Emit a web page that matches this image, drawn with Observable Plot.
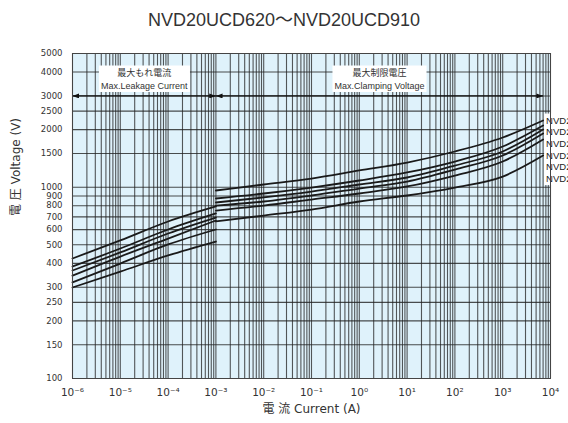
<!DOCTYPE html>
<html><head><meta charset="utf-8">
<script src="https://cdn.jsdelivr.net/npm/d3@7"></script>
<script src="https://cdn.jsdelivr.net/npm/@observablehq/plot@0.6"></script>
<style>
body{margin:0;background:#fff;width:568px;height:423px;overflow:hidden;}
#title{height:40px;line-height:40px;text-align:center;font-size:18px;font-family:"Liberation Sans",Arial,"Noto Sans CJK JP",sans-serif;color:#333;}
#chart svg{display:block;}
</style></head><body>
<div id="title"></div>
<div id="chart"></div>
<script>
// ---- data ----
const models = ["NVD20UCD910","NVD20UCD820","NVD20UCD780","NVD20UCD750","NVD20UCD680","NVD20UCD620"];
const leakCurrent  = [1e-6, 1e-5, 1e-4, 1e-3];
const clampCurrent = [1e-3, 1e-2, 1e-1, 1, 10, 100, 1000, 7000];

const leak910 = [424, 527, 662, 793];
const leak820 = [385, 478, 601, 729];
const leak780 = [367, 456, 573, 694];
const leak750 = [345, 434, 539, 670];
const leak680 = [318, 399, 502, 601];
const leak620 = [299, 362, 440, 520];

const clamp910 = [961, 1033, 1110, 1223, 1346, 1537, 1819, 2232];
const clamp820 = [873,  927,  996, 1084, 1194, 1362, 1632, 2101];
const clamp780 = [832,  884,  949, 1033, 1124, 1298, 1537, 2002];
const clamp750 = [802,  842,  905,  984, 1071, 1237, 1464, 1909];
const clamp680 = [755,  802,  862,  927, 1009, 1151, 1362, 1776];
const clamp620 = [662,  711,  764,  842,  905,  996, 1137, 1464];

const xTicks = [1e-6,1e-5,1e-4,1e-3,1e-2,1e-1,1,10,100,1000,10000];
const xTickLabels = ["10⁻⁶","10⁻⁵","10⁻⁴","10⁻³","10⁻²","10⁻¹","10⁰","10¹","10²","10³","10⁴"];
const yTicks = [100,150,200,250,300,400,500,600,700,800,900,1000,1500,2000,2500,3000,4000,5000];
const yTickLabels = ["100","150","200","250","300","400","500","600","700","800","900","1000","1500","2000","2500","3000","4000","5000"];

const arrowLevel = 3000;
const notes = [
  {text: "最大もれ電流\nMax.Leakage Current", from: 1e-6, to: 1e-3},
  {text: "最大制限電圧\nMax.Clamping Voltage", from: 1e-3, to: 7000}
];
const title = "NVD20UCD620～NVD20UCD910";
const xLabel = "電 流 Current (A)";
const yLabel = "電 圧 Voltage (V)";

// ---- build tables ----
const leakSeries = [leak910, leak820, leak780, leak750, leak680, leak620];
const clampSeries = [clamp910, clamp820, clamp780, clamp750, clamp680, clamp620];
const leakRows = [], clampRows = [];
models.forEach((m, k) => {
  leakCurrent.forEach((c, j) => leakRows.push({model: m, i: c, v: leakSeries[k][j]}));
  clampCurrent.forEach((c, j) => clampRows.push({model: m, i: c, v: clampSeries[k][j]}));
});
// grid positions (1..9 per decade)
const gridX = [];
for (let k = -6; k <= 3; k++) for (let m = 1; m <= 9; m++) gridX.push(m * Math.pow(10, k));
gridX.push(1e4);

const sansJP = "'Liberation Sans', Arial, 'Noto Sans CJK JP', sans-serif";
const wide = "'DejaVu Sans', 'Noto Sans CJK JP', sans-serif";
const endI = clampCurrent[clampCurrent.length - 1];

const chart = Plot.plot({
  width: 568, height: 383,
  marginLeft: 72, marginRight: 18, marginTop: 13, marginBottom: 45,
  style: {fontFamily: wide, fontSize: "10px", color: "#333", background: "transparent"},
  x: {type: "log", domain: [1e-6, 1e4], axis: null},
  y: {type: "log", domain: [100, 5000], axis: null},
  marks: [
    Plot.frame({fill: "#dff2fb"}),
    Plot.ruleX(gridX, {stroke: "#222", strokeOpacity: 0.75, strokeWidth: 1.1}),
    Plot.ruleY(yTicks, {stroke: "#222", strokeOpacity: 0.8, strokeWidth: 1.1}),
    Plot.line(leakRows, {x: "i", y: "v", z: "model", stroke: "#1a1a1a", strokeWidth: 1.8, curve: "monotone-x"}),
    Plot.line(clampRows, {x: "i", y: "v", z: "model", stroke: "#1a1a1a", strokeWidth: 1.8, curve: "monotone-x"}),
    Plot.link(notes, {x1: "from", x2: "to", y1: () => arrowLevel, y2: () => arrowLevel, stroke: "#111", strokeWidth: 1.3, ariaDescription: "span"}),
    Plot.text(notes, {x: d => Math.sqrt(d.from * d.to), y: () => arrowLevel, text: "text", dy: -18, fontSize: 9, lineHeight: 1.5, fill: "#333", fontFamily: sansJP, ariaDescription: "note"}),
    ...models.map((m, i) => Plot.text([m], {x: () => endI, y: () => clamp910[clamp910.length - 1], text: d => d, dx: 3, dy: i * 11.7, textAnchor: "start", fontSize: 9.5, fill: "#222", fontFamily: sansJP, ariaDescription: "curve-label"})),
    Plot.frame({stroke: "#444", strokeWidth: 1}),
    // tick labels
    Plot.text(yTicks, {y: d => d, frameAnchor: "left", dx: -10, textAnchor: "end", text: (d, i) => yTickLabels[i], fontSize: 8.5, fill: "#333"}),
    Plot.text(xTicks, {x: d => d, frameAnchor: "bottom", dy: 17, text: (d, i) => xTickLabels[i], fontSize: 10.5, fill: "#333"}),
    // axis titles
    Plot.text([xLabel], {frameAnchor: "bottom", dy: 34, text: d => d, fontSize: 12, fontFamily: wide, fill: "#333"}),
    Plot.text([yLabel], {frameAnchor: "left", dx: -56, rotate: -90, text: d => d, fontSize: 12, fontFamily: wide, fill: "#333"})
  ]
});
document.getElementById("title").textContent = title;
document.getElementById("chart").append(chart);

// ---- decorations: arrowheads and white label boxes ----
const svg = chart;
const s = d3.select(svg);
const defs = s.insert("defs", ":first-child");
defs.append("marker").attr("id", "ah").attr("viewBox", "0 0 8 6").attr("refX", 8).attr("refY", 3)
  .attr("markerWidth", 7).attr("markerHeight", 5).attr("markerUnits", "userSpaceOnUse")
  .attr("orient", "auto-start-reverse")
  .append("path").attr("d", "M0,0L8,3L0,6Z").attr("fill", "#111");
s.selectAll('g[aria-description="span"] path').attr("marker-start", "url(#ah)").attr("marker-end", "url(#ah)");

const sr = svg.getBoundingClientRect();
s.selectAll('g[aria-description="note"]').each(function () {
  const g = this;
  d3.select(g).selectAll("text").each(function () {
    const r = this.getBoundingClientRect();
    const rect = document.createElementNS("http://www.w3.org/2000/svg", "rect");
    rect.setAttribute("x", r.left - sr.left - 2);
    rect.setAttribute("y", r.top - sr.top - 1);
    rect.setAttribute("width", r.width + 4);
    rect.setAttribute("height", r.height + 2);
    rect.setAttribute("fill", "#fff");
    svg.insertBefore(rect, g);
  });
});
const labelGroups = svg.querySelectorAll('g[aria-description="curve-label"]');
if (labelGroups.length) {
  let x0 = Infinity, y0 = Infinity, y1 = -Infinity;
  labelGroups.forEach(g => g.querySelectorAll("text").forEach(t => {
    const r = t.getBoundingClientRect();
    x0 = Math.min(x0, r.left - sr.left); y0 = Math.min(y0, r.top - sr.top); y1 = Math.max(y1, r.bottom - sr.top);
  }));
  const rect = document.createElementNS("http://www.w3.org/2000/svg", "rect");
  rect.setAttribute("x", x0 - 2);
  rect.setAttribute("y", y0 - 1);
  rect.setAttribute("width", 568 - x0 + 2);
  rect.setAttribute("height", y1 - y0 + 2);
  rect.setAttribute("fill", "#fff");
  svg.insertBefore(rect, labelGroups[0]);
}
</script>
</body></html>
